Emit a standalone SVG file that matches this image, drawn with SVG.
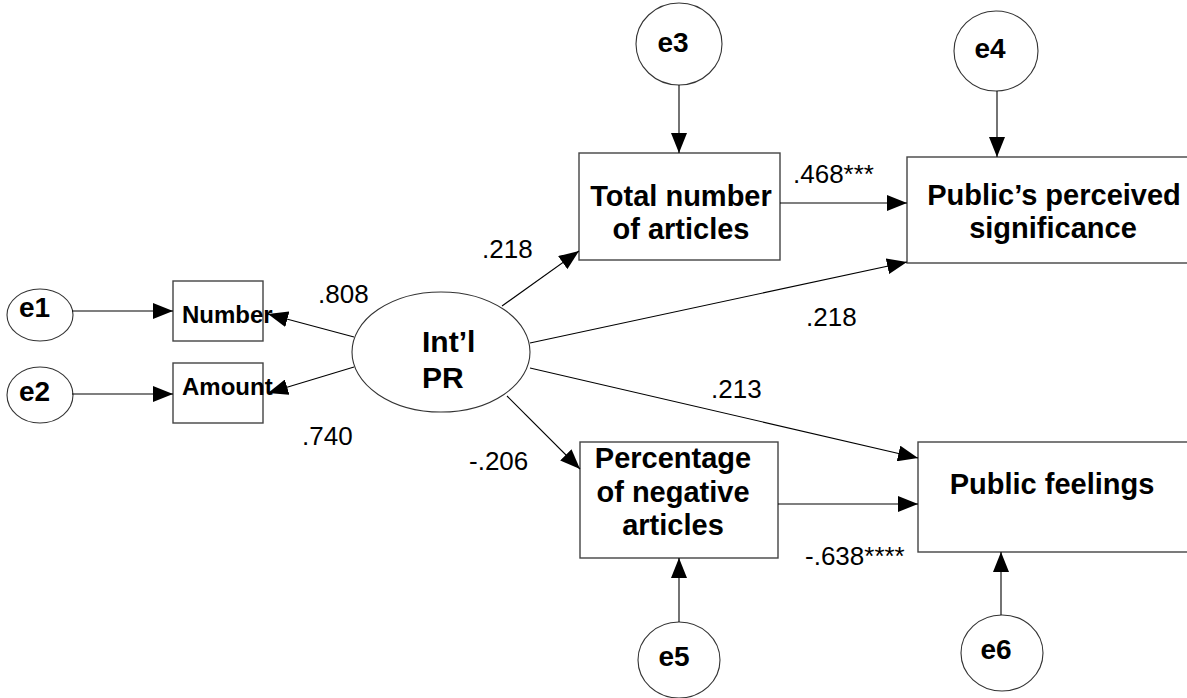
<svg xmlns="http://www.w3.org/2000/svg" width="1187" height="698" viewBox="0 0 1187 698">
  <defs>
    <marker id="arrow" markerUnits="userSpaceOnUse" markerWidth="20" markerHeight="16" refX="20" refY="8" orient="auto">
      <path d="M0,0 L20,8 L0,16 z" fill="#000"/>
    </marker>
    <style>
      .box { fill: #fff; stroke: #444; stroke-width: 1.4; }
      .oval { fill: #fff; stroke: #333; stroke-width: 1.1; }
      .edge { stroke: #000; stroke-width: 1.1; fill: none; marker-end: url(#arrow); }
      .lbl { font-family: "Liberation Sans", Arial, sans-serif; font-weight: bold; font-size: 29px; fill: #000; }
      .err { font-family: "Liberation Sans", Arial, sans-serif; font-weight: bold; font-size: 28px; fill: #000; }
      .ind { font-family: "Liberation Sans", Arial, sans-serif; font-weight: bold; font-size: 24px; fill: #000; }
      .num { font-family: "Liberation Sans", Arial, sans-serif; font-size: 26px; fill: #000; }
      .mid { text-anchor: middle; }
    </style>
  </defs>

  <rect width="1187" height="698" fill="#fff"/>

  <!-- error terms -->
  <g id="e1"><ellipse class="oval" cx="40" cy="315" rx="33" ry="26"/><text class="err" x="19" y="317">e1</text></g>
  <g id="e2"><ellipse class="oval" cx="40" cy="395" rx="33" ry="28"/><text class="err" x="19" y="401">e2</text></g>
  <g id="e3"><ellipse class="oval" cx="679" cy="44" rx="43" ry="41"/><text class="err mid" x="673" y="52">e3</text></g>
  <g id="e4"><ellipse class="oval" cx="996" cy="51" rx="42" ry="40"/><text class="err mid" x="990" y="58">e4</text></g>
  <g id="e5"><ellipse class="oval" cx="679" cy="660" rx="41" ry="38"/><text class="err mid" x="674" y="666">e5</text></g>
  <g id="e6"><ellipse class="oval" cx="1002" cy="653" rx="41" ry="38"/><text class="err mid" x="996" y="659">e6</text></g>

  <!-- indicators -->
  <g id="number">
    <rect class="box" x="173" y="281" width="90" height="60"/>
    <text class="ind" x="182" y="323">Number</text>
  </g>
  <g id="amount">
    <rect class="box" x="173" y="363" width="90" height="60"/>
    <text class="ind" x="182" y="395">Amount</text>
  </g>

  <!-- latent factor -->
  <g id="intl-pr">
    <ellipse class="oval" cx="441" cy="352" rx="89" ry="60"/>
    <text class="lbl" x="422" y="352" style="font-size:30px">Int’l</text>
    <text class="lbl" x="422" y="388" style="font-size:30px">PR</text>
  </g>

  <g id="total-articles">
    <rect class="box" x="579" y="153" width="201" height="107"/>
    <text class="lbl mid" x="681" y="206">Total number</text>
    <text class="lbl mid" x="681" y="239">of articles</text>
  </g>

  <g id="negative-articles">
    <rect class="box" x="580" y="442" width="198" height="116"/>
    <text class="lbl mid" x="673" y="468">Percentage</text>
    <text class="lbl mid" x="673" y="502">of negative</text>
    <text class="lbl mid" x="673" y="535">articles</text>
  </g>

  <g id="perceived-significance">
    <rect class="box" x="907" y="157" width="290" height="106"/>
    <text class="lbl mid" x="1054" y="205">Public’s perceived</text>
    <text class="lbl mid" x="1053" y="238">significance</text>
  </g>

  <g id="public-feelings">
    <rect class="box" x="918" y="442" width="280" height="110"/>
    <text class="lbl mid" x="1052" y="494">Public feelings</text>
  </g>

  <!-- paths and loadings (drawn last so the loading heads sit over the indicator names) -->
  <g id="connectors">
    <line class="edge" x1="72" y1="311" x2="173" y2="311"/>
    <line class="edge" x1="72" y1="394" x2="173" y2="394"/>
    <line class="edge" x1="354" y1="337" x2="268" y2="314"/>
    <line class="edge" x1="354" y1="367" x2="268" y2="393"/>
    <line class="edge" x1="679" y1="85" x2="679" y2="153"/>
    <line class="edge" x1="997" y1="91" x2="997" y2="157"/>
    <line class="edge" x1="679" y1="622" x2="679" y2="558"/>
    <line class="edge" x1="1001" y1="615" x2="1001" y2="552"/>
    <line class="edge" x1="780" y1="203" x2="907" y2="203"/>
    <line class="edge" x1="778" y1="504" x2="918" y2="504"/>
    <line class="edge" x1="502" y1="306" x2="579" y2="251"/>
    <line class="edge" x1="530" y1="343" x2="907" y2="262"/>
    <line class="edge" x1="530" y1="368" x2="918" y2="458"/>
    <line class="edge" x1="507" y1="396" x2="580" y2="469"/>
  </g>

  <!-- coefficients -->
  <g id="coefficients">
    <text class="num" x="318" y="303">.808</text>
    <text class="num" x="302" y="445">.740</text>
    <text class="num" x="482" y="258">.218</text>
    <text class="num" x="806" y="326">.218</text>
    <text class="num" x="711" y="398">.213</text>
    <text class="num" x="469" y="470">-.206</text>
    <text class="num" x="793" y="183">.468***</text>
    <text class="num" x="805" y="565">-.638****</text>
  </g>
</svg>
